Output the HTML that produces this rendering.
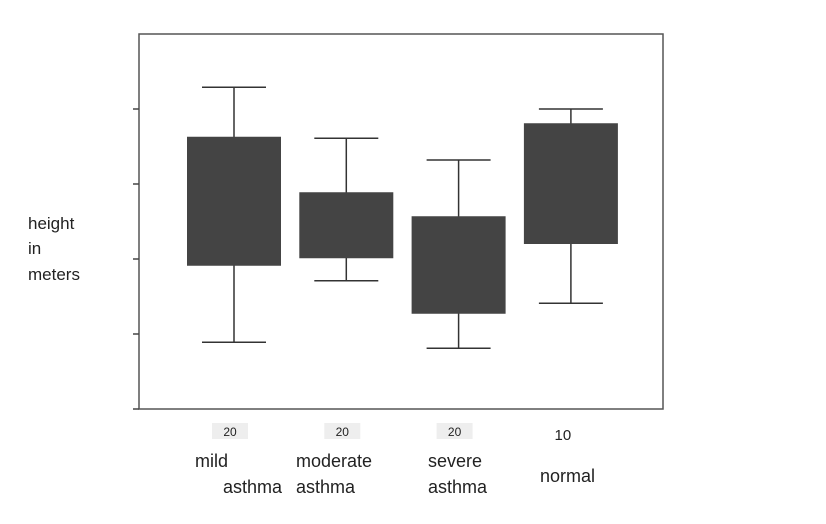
<!DOCTYPE html>
<html><head><meta charset="utf-8"><style>
body{margin:0;background:#fff;width:826px;height:519px;overflow:hidden}
text{font-family:"Liberation Sans",sans-serif;fill:#222}
</style></head><body>
<svg id="chart" width="826" height="519" xmlns="http://www.w3.org/2000/svg">
<rect x="139" y="34" width="524" height="375" fill="none" stroke="#555" stroke-width="1.5"/>
<g id="yticks"></g>
<g id="boxes"></g>
<g id="labels"></g>
<text x="28" y="229" font-size="17">height</text>
<text x="28" y="254" font-size="17">in</text>
<text x="28" y="280" font-size="17">meters</text>
</svg>
<script>
const categories=["mild asthma","moderate asthma","severe asthma","normal"];
const counts=["20","20","20","10"];
const maxVals=[4.29,3.61,3.32,4.0];
const q3Vals=[3.63,2.89,2.57,3.81];
const q1Vals=[1.91,2.01,1.27,2.2];
const minVals=[0.89,1.71,0.81,1.41];
const yTicks=[0,1,2,3,4];
const NS="http://www.w3.org/2000/svg";
const y=v=>409-v*75;
const xc=i=>234+i*112.3;
function mk(tag,attrs,parent){const e=document.createElementNS(NS,tag);for(const k in attrs)e.setAttribute(k,attrs[k]);parent.appendChild(e);return e;}
const yt=document.getElementById('yticks');
yTicks.forEach(t=>{const l=mk('line',{x1:133,x2:139,y1:y(t),y2:y(t),stroke:'#444','stroke-width':1.5},yt);

});
const bx=document.getElementById('boxes');
categories.forEach((c,i)=>{
 const g=mk('g',{},bx);
 
 
 const x=xc(i);
 mk('line',{x1:x,x2:x,y1:y(maxVals[i]),y2:y(minVals[i]),stroke:'#333','stroke-width':1.5},g);
 mk('line',{x1:x-32,x2:x+32,y1:y(maxVals[i]),y2:y(maxVals[i]),stroke:'#333','stroke-width':1.5},g);
 mk('line',{x1:x-32,x2:x+32,y1:y(minVals[i]),y2:y(minVals[i]),stroke:'#333','stroke-width':1.5},g);
 mk('rect',{x:x-47,width:94,y:y(q3Vals[i]),height:y(q1Vals[i])-y(q3Vals[i]),fill:'#444'},g);
});
const lb=document.getElementById('labels');
categories.forEach((c,i)=>{
 const x=xc(i);
 if(i<3){const r=mk('rect',{x:x-22,y:423,width:36,height:16,fill:'#eee'},lb);
 
 }
 const t=mk('text',{x:i<3?x-4:x-8,y:i<3?436:440,'font-size':i<3?12:15,'text-anchor':'middle'},lb);
 t.textContent=counts[i];
 
 
 const parts=c.split(' ');
 const lx=[195,296,428,540][i];
 if(i<3){parts.forEach((p,j)=>{const tt=mk('text',{x:j==0?lx:lx-(i==0?(-1)*-0:0),y:467+j*26,'font-size':18},lb);
  if(j==1&&i==0)tt.setAttribute('x',223);
  tt.textContent=p;
  
  });}
 else{const tt=mk('text',{x:lx,y:482,'font-size':18},lb);tt.textContent=c;
  
  }
});
</script>
</body></html>
